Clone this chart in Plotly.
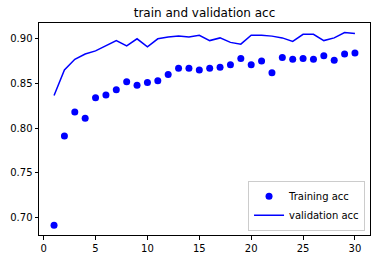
import plotly.graph_objects as go

epochs = list(range(1, 31))
train_acc = [0.691, 0.791, 0.818, 0.811, 0.834, 0.837, 0.843, 0.852, 0.848, 0.851,
             0.853, 0.860, 0.867, 0.867, 0.865, 0.867, 0.868, 0.871, 0.878, 0.871,
             0.875, 0.862, 0.879, 0.877, 0.878, 0.877, 0.881, 0.876, 0.883, 0.884]
val_acc = [0.8365, 0.865, 0.877, 0.883, 0.8865, 0.892, 0.898, 0.892, 0.900, 0.891,
           0.900, 0.902, 0.903, 0.902, 0.904, 0.898, 0.901, 0.896, 0.894, 0.904,
           0.904, 0.903, 0.901, 0.897, 0.905, 0.905, 0.898, 0.901, 0.907, 0.906]
x_ticks = [0, 5, 10, 15, 20, 25, 30]
y_ticks = [0.70, 0.75, 0.80, 0.85, 0.90]

font = "DejaVu Sans"
fig = go.Figure()
fig.add_trace(go.Scatter(x=epochs, y=train_acc, mode="markers", name="Training acc",
                         marker=dict(color="#0000ff", size=7)))
fig.add_trace(go.Scatter(x=epochs, y=val_acc, mode="lines", name="validation acc",
                         line=dict(color="#0000ff", width=1.5)))

axis_common = dict(showline=True, linecolor="black", linewidth=1, mirror=True,
                   ticks="outside", ticklen=3.5, tickwidth=1, tickcolor="black",
                   showgrid=False, zeroline=False,
                   tickfont=dict(family=font, size=10, color="black"))
fig.update_layout(
    width=381, height=264,
    margin=dict(l=37, r=10, t=23, b=24),
    paper_bgcolor="white", plot_bgcolor="white",
    title=dict(text="train and validation acc", x=0.5, xref="paper", xanchor="center",
               y=1 - 13 / 264, yanchor="middle",
               font=dict(family=font, size=12, color="black")),
    xaxis=dict(range=[-0.45, 31.45], tickvals=x_ticks, **axis_common),
    yaxis=dict(range=[0.6802, 0.9177], tickvals=y_ticks, tickformat=".2f", **axis_common),
    legend=dict(x=0.985, y=0.02, xanchor="right", yanchor="bottom",
                bgcolor="rgba(255,255,255,0.8)", bordercolor="#cccccc", borderwidth=1,
                font=dict(family=font, size=10, color="black"),
                itemwidth=30, tracegroupgap=0),
    showlegend=True,
)
fig.write_html("out.html")
